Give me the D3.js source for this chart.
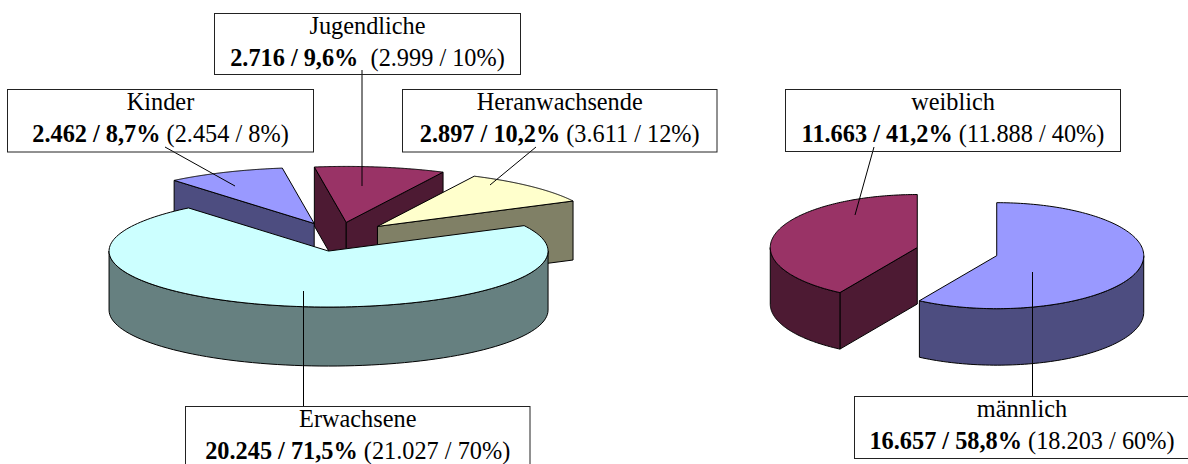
<!DOCTYPE html>
<html lang="de">
<head>
<meta charset="utf-8">
<script src="https://cdn.jsdelivr.net/npm/d3@7"></script>
<style>
html,body{margin:0;padding:0;background:#fff;overflow:hidden}
svg{display:block}
text{font-family:"Liberation Serif","Times New Roman",serif;font-size:24.3px;fill:#000;white-space:pre}
</style>
</head>
<body>
<svg id="chart" width="1188" height="464"></svg>
<script>
// ---- data ----
const ageGroups   = ["Erwachsene", "Kinder", "Jugendliche", "Heranwachsende"];
const ageCounts   = [20245, 2462, 2716, 2897];
const ageBold     = ["20.245 / 71,5%", "2.462 / 8,7%", "2.716 / 9,6%", "2.897 / 10,2%"];
const agePrior    = [" (21.027 / 70%)", " (2.454 / 8%)", "  (2.999 / 10%)", " (3.611 / 12%)"];
const sexGroups   = ["männlich", "weiblich"];
const sexCounts   = [16657, 11663];
const sexBold     = ["16.657 / 58,8%", "11.663 / 41,2%"];
const sexPrior    = [" (18.203 / 60%)", " (11.888 / 40%)"];

// ---- styles / layout ----
const colours = {
  Erwachsene:["#CCFFFF","#668080"], Kinder:["#9999FF","#4D4D80"],
  Jugendliche:["#993366","#4D1A33"], Heranwachsende:["#FFFFCC","#808066"],
  "männlich":["#9999FF","#4D4D80"], weiblich:["#993366","#4D1A33"]
};
const agePie = {cx:337.4, cy:236.8, rx:219.5, ry:56, depth:59, explode:.26, start:63, nudge:{Erwachsene:2.7}};
const sexPie = {cx:957,   cy:251.6, rx:147,   ry:53, depth:56.5, explode:.281, start:0, nudge:{}};
// box [x, y, w, h], baselines relative to y, leader [x1,y1,x2,y2]
const layout = {
  Jugendliche:   {box:[214.5,13.5,306,61],  leader:[362,70,362,186]},
  Kinder:        {box:[7.5,89.5,306,62.5],  leader:[165,147,235,186]},
  Heranwachsende:{box:[402.5,89.5,314.5,62.5], leader:[536,147,490,185]},
  Erwachsene:    {box:[185.5,406.5,344.5,64],leader:[303.5,291,303.5,406]},
  weiblich:      {box:[785.5,89.5,335,62],  leader:[874,147,855,215]},
  "männlich":    {box:[854.5,396.5,335,62], leader:[1032.5,272,1032.5,396]}
};

const svg = d3.select("#chart");
const gMarks = svg.append("g");
const gLabels = svg.append("g");
const rad = Math.PI/180;
const line = d3.line();

function drawPie(names, counts, cfg){
  const x = d3.scaleLinear().domain([-1,1]).range([-cfg.rx,cfg.rx]);
  const y = d3.scaleLinear().domain([-1,1]).range([-cfg.ry,cfg.ry]);
  const pie = d3.pie().sort(null)
    .startAngle(cfg.start*rad).endAngle((cfg.start+360)*rad);
  const arcs = pie(counts).map((a,i)=>{
    const mid = (a.startAngle+a.endAngle)/2;
    return {name:names[i], a0:a.startAngle, a1:a.endAngle,
      ox:cfg.cx + cfg.explode*x(Math.sin(mid)) + (cfg.nudge[names[i]]||0),
      oy:cfg.cy - cfg.explode*y(Math.cos(mid))};
  }).sort((p,q)=>p.oy-q.oy);

  arcs.forEach(s=>{
    const pt = (t,dz=0)=>[s.ox + x(Math.sin(t)), s.oy - y(Math.cos(t)) + dz];
    const apex = dz=>[s.ox, s.oy+dz];
    const g = gMarks.append("g");
    const [top,side] = colours[s.name];
    const face = (pts,fill)=>g.append("path").attr("d",line(pts)+"Z")
      .attr("fill",fill).attr("stroke","#000").attr("stroke-width",1).attr("stroke-linejoin","round");
    const d = cfg.depth;
    // radial walls facing the viewer
    if (Math.sin(s.a0) < -1e-6) face([apex(0),pt(s.a0),pt(s.a0,d),apex(d)],side);
    if (Math.sin(s.a1) >  1e-6) face([apex(0),pt(s.a1),pt(s.a1,d),apex(d)],side);
    // outer wall: the parts of the rim on the front half of the ellipse
    for (let k=0;k<3;k++){
      const lo = Math.max(s.a0, Math.PI/2 + k*2*Math.PI);
      const hi = Math.min(s.a1, 3*Math.PI/2 + k*2*Math.PI);
      if (hi>lo){
        const ts = d3.range(0,81).map(i=>lo+(hi-lo)*i/80);
        face(ts.map(t=>pt(t)).concat(ts.slice().reverse().map(t=>pt(t,d))),side);
      }
    }
    // top surface
    const ts = d3.range(0,161).map(i=>s.a0+(s.a1-s.a0)*i/160);
    face([apex(0)].concat(ts.map(t=>pt(t))),top);
  });
}

function drawLabel(name,bold,prior){
  const L = layout[name], [bx,by,bw,bh] = L.box;
  gLabels.append("line")
    .attr("x1",L.leader[0]).attr("y1",L.leader[1])
    .attr("x2",L.leader[2]).attr("y2",L.leader[3])
    .attr("stroke","#000").attr("stroke-width",1);
  gLabels.append("rect").attr("x",bx).attr("y",by).attr("width",bw).attr("height",bh)
    .attr("fill","none").attr("stroke","#222").attr("stroke-width",1);
  const mid = bx+bw/2;
  gLabels.append("text").attr("x",mid).attr("y",by+20.5).attr("text-anchor","middle").text(name);
  const t = gLabels.append("text").attr("x",mid).attr("y",by+52).attr("text-anchor","middle");
  t.append("tspan").attr("font-weight","bold").text(bold);
  t.append("tspan").text(prior);
}

drawPie(ageGroups,ageCounts,agePie);
drawPie(sexGroups,sexCounts,sexPie);
// labels: boxes are unfilled outlines drawn in reference order, leaders cross them
ageGroups.forEach((n,i)=>drawLabel(n,ageBold[i],agePrior[i]));
sexGroups.forEach((n,i)=>drawLabel(n,sexBold[i],sexPrior[i]));
</script>
</body>
</html>
